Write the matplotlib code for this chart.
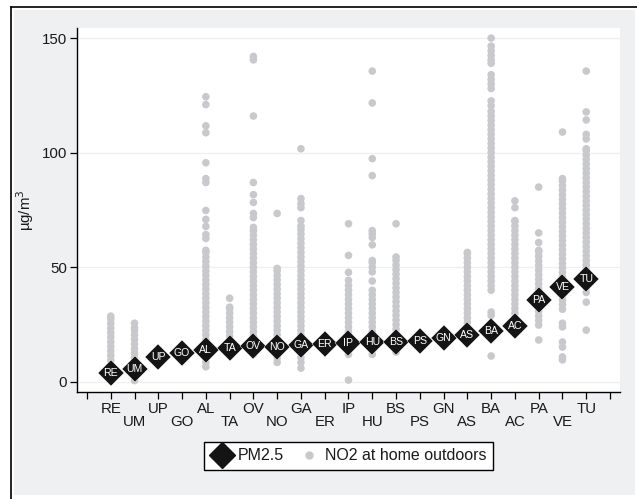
import matplotlib
matplotlib.use("Agg")
import matplotlib.pyplot as plt
from matplotlib.lines import Line2D
from matplotlib.patches import Rectangle

plt.rcParams['font.family'] = ['Liberation Sans', 'DejaVu Sans']

cats = ["RE", "UM", "UP", "GO", "AL", "TA", "OV", "NO", "GA", "ER", "IP",
        "HU", "BS", "PS", "GN", "AS", "BA", "AC", "PA", "VE", "TU"]
pm25 = [4.0, 5.6, 10.8, 12.8, 13.8, 14.8, 15.6, 15.4, 16.0, 16.4, 16.9,
        17.4, 17.5, 17.9, 19.1, 20.4, 22.1, 24.3, 35.6, 41.3, 44.8]

no2_RE = [1.5, 3.5, 5.5, 7.5, 9.5, 11.5, 13.5, 15.5, 17.5, 19.5, 21.5, 23.5, 25.5, 27.5, 28.7]
no2_UM = [0.6, 2.5, 4.5, 6.5, 8.5, 10.5, 12.5, 14.5, 16.5, 18.5, 20.5, 22.5, 23.5, 25.6]
no2_UP = []
no2_GO = []
no2_AL = [6.6, 8.5, 10.5, 12.5, 14.5, 16.5, 18.5, 20.5, 22.5, 24.5, 26.5, 28.5, 30.5, 32.5,
          34.5, 36.5, 38.5, 40.5, 42.5, 44.5, 46.5, 48.5, 50.5, 52.5, 54.5, 56.5, 57.4, 62.6,
          64.3, 67.8, 70.9, 74.8, 87.0, 88.7, 95.6, 108.7, 111.7, 121.0, 124.4]
no2_TA = [14.0, 16.0, 18.0, 20.0, 22.0, 24.0, 26.0, 28.0, 30.0, 32.0, 32.6, 36.5]
no2_OV = [12.0, 14.0, 16.0, 18.0, 20.0, 22.0, 24.0, 26.0, 28.0, 30.0, 32.0, 34.0, 36.0, 38.0,
          40.0, 42.0, 44.0, 46.0, 48.0, 50.0, 52.0, 54.0, 56.0, 58.0, 60.0, 62.0, 64.0, 66.0,
          67.4, 71.7, 73.5, 78.3, 81.7, 87.0, 116.0, 140.5, 142.0]
no2_NO = [8.5, 10.5, 12.5, 14.5, 16.5, 18.5, 20.5, 22.5, 24.5, 26.5, 28.5, 30.5, 32.5, 34.5,
          36.5, 38.5, 40.5, 42.5, 44.5, 46.5, 48.5, 49.5, 73.5]
no2_GA = [6.0, 8.5, 10.5, 12.5, 14.5, 16.5, 18.5, 20.5, 22.5, 24.5, 26.5, 28.5, 30.5, 32.5,
          34.5, 36.5, 38.5, 40.5, 42.5, 44.5, 46.5, 48.5, 50.5, 52.5, 54.5, 56.5, 58.5, 60.5,
          62.5, 64.5, 66.5, 68.0, 70.4, 76.0, 77.8, 80.0, 101.7]
no2_ER = []
no2_IP = [0.8, 12.0, 14.0, 16.0, 18.0, 20.0, 22.0, 24.0, 26.0, 28.0, 30.0, 32.0, 34.0, 36.0,
          38.0, 40.0, 42.0, 44.3, 47.8, 55.2, 69.0]
no2_HU = [12.0, 14.0, 16.0, 18.0, 20.0, 22.0, 24.0, 26.0, 28.0, 30.0, 32.0, 34.0, 36.0, 38.0,
          40.0, 44.0, 48.0, 50.0, 52.0, 53.0, 59.8, 63.0, 64.6, 66.0, 90.0, 97.4, 121.7, 135.6]
no2_BS = [13.0, 15.0, 17.0, 19.0, 21.0, 23.0, 25.0, 27.0, 29.0, 31.0, 33.0, 35.0, 37.0, 39.0,
          41.0, 43.0, 45.0, 47.0, 49.0, 51.0, 53.0, 54.5, 69.0]
no2_PS = []
no2_GN = []
no2_AS = [18.0, 20.0, 22.0, 24.0, 26.0, 28.0, 30.0, 32.0, 34.0, 36.0, 38.0, 40.0, 42.0, 44.0,
          46.0, 48.0, 50.0, 52.0, 54.0, 56.0, 56.5]
no2_BA = [11.3, 29.0, 30.5, 40.0, 42.0, 44.0, 46.0, 48.0, 50.0, 52.0, 54.0, 56.0, 58.0, 60.0,
          62.0, 64.0, 66.0, 68.0, 70.0, 72.0, 74.0, 76.0, 78.0, 80.0, 82.0, 84.0, 86.0, 88.0,
          90.0, 92.0, 94.0, 96.0, 98.0, 100.0, 102.0, 104.0, 106.0, 108.0, 110.0, 112.0, 114.0,
          116.0, 118.0, 120.5, 122.6, 128.0, 130.0, 132.0, 134.0, 139.0, 140.5, 142.5, 144.5,
          146.5, 150.0]
no2_AC = [24.0, 26.0, 28.0, 30.0, 32.0, 34.0, 36.0, 38.0, 40.0, 42.0, 44.0, 46.0, 48.0, 50.0,
          52.0, 54.0, 56.0, 58.0, 60.0, 62.0, 64.0, 66.0, 68.0, 70.0, 70.4, 76.0, 79.0]
no2_PA = [18.3, 24.8, 26.8, 28.8, 30.8, 32.8, 34.8, 36.8, 38.8, 40.8, 42.8, 44.8, 46.8, 48.8,
          50.8, 52.8, 54.8, 56.8, 57.4, 60.8, 65.0, 85.0]
no2_VE = [9.6, 10.9, 15.2, 17.4, 24.0, 25.6, 31.7, 33.7, 35.7, 37.7, 39.7, 41.7, 43.7, 45.7,
          47.7, 49.7, 51.7, 53.7, 55.7, 57.7, 59.7, 61.7, 63.7, 65.7, 67.7, 69.7, 71.7, 73.7,
          75.7, 77.7, 79.7, 81.7, 83.7, 85.7, 87.7, 88.7, 109.0]
no2_TU = [22.6, 34.8, 39.0, 41.0, 43.0, 45.0, 47.0, 49.0, 51.0, 53.0, 55.0, 57.0, 59.0, 61.0,
          63.0, 65.0, 67.0, 69.0, 71.0, 73.0, 75.0, 77.0, 79.0, 81.0, 83.0, 85.0, 87.0, 89.0,
          91.0, 93.0, 95.0, 97.0, 99.0, 101.0, 101.7, 106.0, 108.0, 114.3, 117.8, 135.6]

no2_all = [no2_RE, no2_UM, no2_UP, no2_GO, no2_AL, no2_TA, no2_OV, no2_NO, no2_GA, no2_ER,
           no2_IP, no2_HU, no2_BS, no2_PS, no2_GN, no2_AS, no2_BA, no2_AC, no2_PA, no2_VE,
           no2_TU]

W, H = 637, 499
fig = plt.figure(figsize=(W / 100, H / 100), dpi=100, facecolor='white')

# background panel and outer frame
fig.patches.append(Rectangle((14 / W, 1 - 495 / H), (635 - 14) / W, (495 - 10) / H,
                             transform=fig.transFigure, facecolor='#eff0f2',
                             edgecolor='none', zorder=-10))
fig.lines.append(Line2D([11 / W, 11 / W], [0, 1 - 7 / H], transform=fig.transFigure,
                        color='black', lw=1.2, zorder=-5))
fig.lines.append(Line2D([11 / W, 1], [1 - 7 / H, 1 - 7 / H], transform=fig.transFigure,
                        color='black', lw=1.2, zorder=-5))

ax = fig.add_axes([77 / W, 1 - 392 / H, (620 - 77) / W, (392 - 28) / H])
ax.set_facecolor('white')

xs = list(range(1, len(cats) + 1))
gray = '#c8c9cc'
for x, vals in zip(xs, no2_all):
    if vals:
        ax.scatter([x] * len(vals), vals, s=30, color=gray, edgecolors='none', zorder=2)

ax.plot(xs, pm25, linestyle='none', marker='D', markersize=13.2, color='#141414',
        markeredgecolor='white', markeredgewidth=0.3, zorder=3)
for x, y, c in zip(xs, pm25, cats):
    ax.text(x, y, c, color='white', fontsize=7.6, ha='center', va='center', zorder=4)

ax.set_xlim(-0.42, 22.42)
ax.set_ylim(-4.4, 154.4)
ax.set_xticks(range(0, 23))
labels = [''] + [c if i % 2 == 0 else '\n' + c for i, c in enumerate(cats)] + ['']
ax.set_xticklabels(labels, fontsize=10.8, linespacing=0.95)
ax.set_yticks([0, 50, 100, 150])
ax.set_yticklabels(['0', '50', '100', '150'], fontsize=10.8)
ax.grid(axis='y', color='#efefef', lw=0.9, zorder=0)
ax.set_axisbelow(True)
for s in ['top', 'right']:
    ax.spines[s].set_visible(False)
for s in ['left', 'bottom']:
    ax.spines[s].set_color('black')
    ax.spines[s].set_linewidth(1.0)
ax.tick_params(axis='both', direction='out', length=5, width=0.9, color='black',
               labelcolor='#1a1a1a', pad=2)
ax.set_ylabel('µg/m$^3$', fontsize=10.8, color='#1a1a1a')
ax.yaxis.set_label_coords((36 - 77) / (620 - 77), 0.5)

handles = [
    Line2D([], [], linestyle='none', marker='D', markersize=13.2, color='#141414'),
    Line2D([], [], linestyle='none', marker='o', markersize=6, color=gray, markeredgecolor='none'),
]
leg = fig.legend(handles, ['PM2.5', 'NO2 at home outdoors'], loc='center',
                 bbox_to_anchor=(348.5 / W, 1 - 456 / H), ncol=2, fontsize=11.5,
                 frameon=True, fancybox=False, framealpha=1, edgecolor='black',
                 handletextpad=0.3, columnspacing=0.9, borderpad=0.4, handlelength=1.4)
leg.get_frame().set_linewidth(1.0)
for t in leg.get_texts():
    t.set_color('#1a1a1a')

fig.savefig('out.png', dpi=100, facecolor='white')
